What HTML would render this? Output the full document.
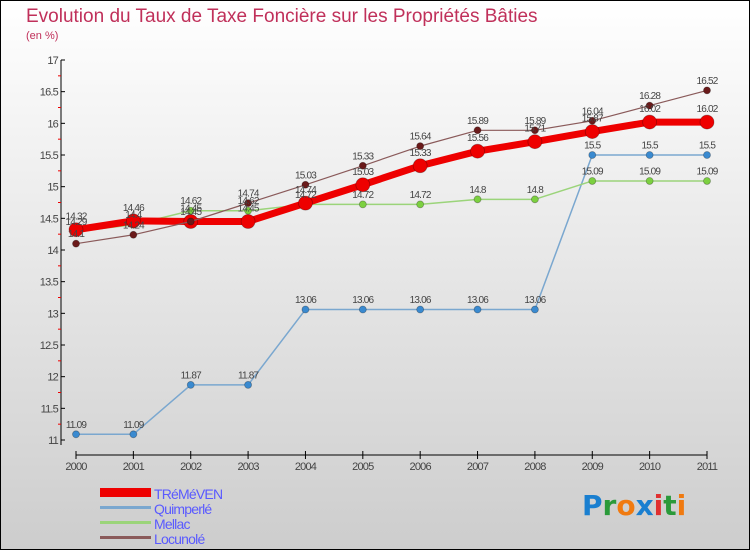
<!DOCTYPE html>
<html><head><meta charset="utf-8"><style>
html,body{margin:0;padding:0}
body{width:750px;height:550px;overflow:hidden;font-family:"Liberation Sans",sans-serif}
</style></head><body>
<svg width="750" height="550" xmlns="http://www.w3.org/2000/svg">
<defs><linearGradient id="bg" x1="0" y1="0" x2="0" y2="1"><stop offset="0" stop-color="#ffffff"/><stop offset="1" stop-color="#cdcdcd"/></linearGradient></defs>
<rect x="0.5" y="0.5" width="749" height="549" fill="url(#bg)" stroke="#000"/>
<text x="26" y="22" font-size="19" fill="#c0305a">Evolution du Taux de Taxe Foncière sur les Propriétés Bâties</text>
<text x="26" y="39" font-size="11" fill="#c0305a">(en %)</text>
<g id="axes"></g>
<g id="series"></g>
<g id="labels" font-size="10" fill="#444" letter-spacing="-0.8"></g>
<g font-size="14" fill="#5a5aff" letter-spacing="-0.8">
<rect x="100" y="488" width="51" height="9" fill="#e00"/>
<text x="154" y="499">TRéMéVEN</text>
<rect x="100" y="506" width="51" height="3" fill="#7aa7cf"/>
<text x="154" y="514">Quimperlé</text>
<rect x="100" y="521" width="51" height="3" fill="#9bd47a"/>
<text x="154" y="529">Mellac</text>
<rect x="100" y="536" width="51" height="3" fill="#8a5a5a"/>
<text x="154" y="544">Locunolé</text>
</g>
<g font-size="28" font-weight="bold" font-family="'DejaVu Sans',sans-serif">
<text x="582" y="515"><tspan fill="#1a7fd0">P</tspan><tspan fill="#2a9a3a">r</tspan><tspan fill="#f07a10">o</tspan><tspan fill="#1a7fd0">x</tspan><tspan fill="#e03030">i</tspan><tspan fill="#2a9a3a">t</tspan><tspan fill="#f07a10">i</tspan></text>
</g>
</svg>
<script>
const years=["2000","2001","2002","2003","2004","2005","2006","2007","2008","2009","2010","2011"];
const yTicks=[11,11.5,12,12.5,13,13.5,14,14.5,15,15.5,16,16.5,17];
const tremeven=[14.32,14.46,14.45,14.45,14.74,15.03,15.33,15.56,15.71,15.87,16.02,16.02];
const quimperle=[11.09,11.09,11.87,11.87,13.06,13.06,13.06,13.06,13.06,15.5,15.5,15.5];
const mellac=[14.29,14.4,14.62,14.62,14.72,14.72,14.72,14.8,14.8,15.09,15.09,15.09];
const locunole=[14.1,14.24,14.45,14.74,15.03,15.33,15.64,15.89,15.89,16.04,16.28,16.52];
const NS="http://www.w3.org/2000/svg";
const X0=76,X1=707,Y0=440,Y1=60,VMIN=11,VMAX=17;
const xs=i=>X0+i*(X1-X0)/(years.length-1);
const ys=v=>Y0-(v-VMIN)*(Y0-Y1)/(VMAX-VMIN);
function mk(tag,attrs,parent){const e=document.createElementNS(NS,tag);for(const k in attrs)e.setAttribute(k,attrs[k]);parent.appendChild(e);return e;}
const axes=document.getElementById('axes');
let a=mk('line',{x1:61,y1:Y1,x2:61,y2:Y0+5,stroke:'#000','stroke-width':1},axes);


a=mk('line',{x1:X0,y1:455,x2:X1,y2:455,stroke:'#000','stroke-width':1},axes);


yTicks.forEach((v,i)=>{
 const y=ys(v);
 mk('line',{x1:61,y1:y,x2:65,y2:y,stroke:'#000'},axes);
 if(i<yTicks.length-1){mk('line',{x1:58,y1:ys(v+0.25),x2:61,y2:ys(v+0.25),stroke:'#e00'},axes);}
 const t=mk('text',{x:58,y:y+4,'font-size':11,fill:'#444','text-anchor':'end','letter-spacing':'-0.8'},axes);
 t.textContent=String(v);
 
 
});
years.forEach((yr,i)=>{
 const x=xs(i);
 mk('line',{x1:x,y1:451,x2:x,y2:459,stroke:'#000'},axes);
 const t=mk('text',{x:x,y:470,'font-size':11,fill:'#444','text-anchor':'middle','letter-spacing':'-0.8'},axes);
 t.textContent=yr;
 
 
});
const series=[
 {name:'quimperle',data:quimperle,color:'#7aa7cf',w:1.5,r:3.5,fill:'#3a8ad0'},
 {name:'mellac',data:mellac,color:'#9bd47a',w:1.5,r:3.5,fill:'#7cd040'},
 {name:'locunole',data:locunole,color:'#8a5a5a',w:1.2,r:3.5,fill:'#6a1a1a'},
 {name:'tremeven',data:tremeven,color:'#e00',w:7,r:7,fill:'#e00'}
];
const sg=document.getElementById('series'),lg=document.getElementById('labels');
[series[0],series[1],series[3],series[2]].forEach(s=>{
 const pts=s.data.map((v,i)=>xs(i)+','+ys(v)).join(' ');
 const pl=mk('polyline',{points:pts,fill:'none',stroke:s.color,'stroke-width':s.w,'stroke-linejoin':'round'},sg);
 
 
 s.data.forEach((v,i)=>{
  const c=mk('circle',{cx:xs(i),cy:ys(v),r:s.r,fill:s.fill,stroke:'rgba(0,0,0,0.3)','stroke-width':0.8},sg);
  
  
  const t=mk('text',{x:xs(i),y:ys(v)-(s.r+3),'text-anchor':'middle'},lg);
  t.textContent=String(v);
  
  
 });
});
</script>
</body></html>
